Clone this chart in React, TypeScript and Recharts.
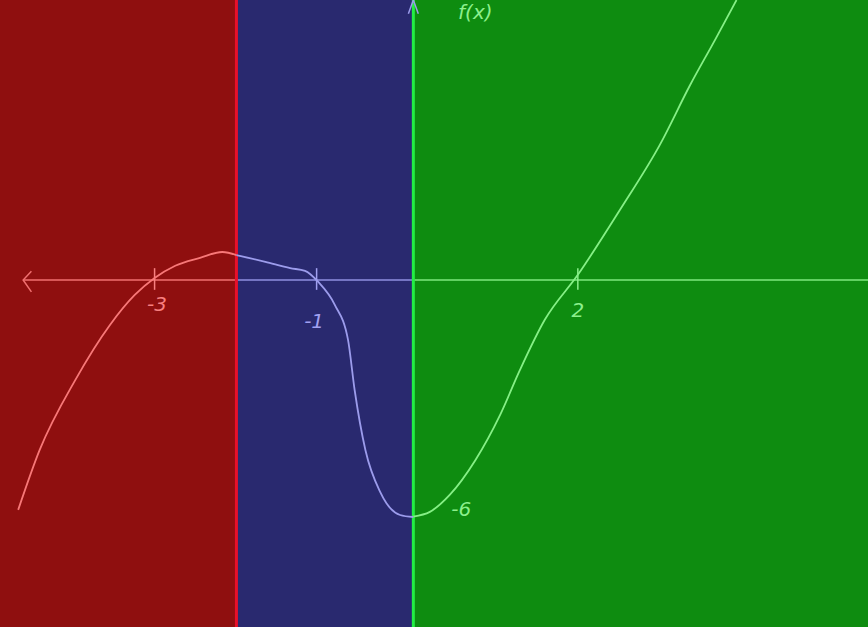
import React from 'react';
import {
  LineChart,
  Line,
  XAxis,
  YAxis,
  ReferenceArea,
  ReferenceLine,
  ReferenceDot,
} from 'recharts';

// sketch of f(x), math units
const X_DOMAIN: [number, number] = [-5, 5.5];
const Y_DOMAIN: [number, number] = [-8.8, 7.1];

const RED_X = [-4.78, -4.52, -4.09, -3.67, -3.37, -3.13, -2.88, -2.58, -2.31, -2.14];
const RED_Y = [-5.83, -4.31, -2.54, -1.14, -0.38, 0.05, 0.36, 0.56, 0.71, 0.63];

const BLUE_X = [-2.14, -1.79, -1.49, -1.31, -1.15, -0.95, -0.79, -0.71, -0.58, -0.4, -0.16, 0];
const BLUE_Y = [0.63, 0.46, 0.3, 0.23, -0.05, -0.63, -1.52, -2.79, -4.31, -5.38, -5.96, -6.01];

const GREEN_X = [0, 0.2, 0.44, 0.75, 1.05, 1.29, 1.59, 1.99, 2.5, 2.98, 3.35, 3.65, 3.91];
const GREEN_Y = [-6.0, -5.88, -5.45, -4.57, -3.42, -2.28, -1.01, 0.13, 1.78, 3.42, 4.95, 6.09, 7.1];

// region boundaries
const SPLIT_LEFT = -2.14;
const SPLIT_RIGHT = 0;
const AXIS_START = -4.72;

// arrow heads: left end of the x axis, top of the y axis
const ARROW_X = [-4.62, -4.72, -4.62];
const ARROW_Y = [0.22, 0, -0.3];
const UP_ARROW_X = [-0.06, 0, 0.06];
const UP_ARROW_Y = [6.75, 7.1, 6.75];

const TICKS = [
  { x: -3.13, color: '#f88080' },
  { x: -1.17, color: '#a0a0f0' },
  { x: 1.99, color: '#8cf08c' },
];

const LABELS = [
  { x: -3.1, y: -0.6, text: '-3', color: '#f88080' },
  { x: -1.2, y: -1.05, text: '-1', color: '#a0a0f0' },
  { x: 1.99, y: -0.75, text: '2', color: '#8cf08c' },
  { x: 0.58, y: -5.8, text: '-6', color: '#8cf08c' },
  { x: 0.75, y: 6.8, text: 'f(x)', color: '#8cf08c' },
];

const toPoints = (xs: number[], ys: number[]) => xs.map((x, i) => ({ x, y: ys[i] }));

const redData = toPoints(RED_X, RED_Y);
const blueData = toPoints(BLUE_X, BLUE_Y);
const greenData = toPoints(GREEN_X, GREEN_Y);
const arrowData = toPoints(ARROW_X, ARROW_Y);
const upArrowData = toPoints(UP_ARROW_X, UP_ARROW_Y);

const HAND = '"DejaVu Sans", sans-serif';

export default function App() {
  return (
    <div style={{ position: 'absolute', left: 0, top: 0, width: 868, height: 627 }}>
      <LineChart width={868} height={627} margin={{ top: 0, right: 0, bottom: 0, left: 0 }}>
        <XAxis type="number" dataKey="x" domain={X_DOMAIN} hide allowDataOverflow />
        <YAxis type="number" dataKey="y" domain={Y_DOMAIN} hide allowDataOverflow />

        {/* coloured regions */}
        <ReferenceArea x1={X_DOMAIN[0]} x2={SPLIT_LEFT} fill="#8f0f0f" fillOpacity={1} stroke="none" />
        <ReferenceArea x1={SPLIT_LEFT} x2={SPLIT_RIGHT} fill="#29296f" fillOpacity={1} stroke="none" />
        <ReferenceArea x1={SPLIT_RIGHT} x2={X_DOMAIN[1]} fill="#0e8c10" fillOpacity={1} stroke="none" />

        {/* x axis, coloured per region */}
        <ReferenceLine segment={[{ x: AXIS_START, y: 0 }, { x: SPLIT_LEFT, y: 0 }]} stroke="#f07070" strokeWidth={1.5} />
        <ReferenceLine segment={[{ x: SPLIT_LEFT, y: 0 }, { x: SPLIT_RIGHT, y: 0 }]} stroke="#8f8fe0" strokeWidth={1.5} />
        <ReferenceLine segment={[{ x: SPLIT_RIGHT, y: 0 }, { x: X_DOMAIN[1], y: 0 }]} stroke="#7ee87e" strokeWidth={1.5} />

        {/* tick marks */}
        {TICKS.map((t) => (
          <ReferenceLine
            key={t.x}
            segment={[{ x: t.x, y: 0.3 }, { x: t.x, y: -0.25 }]}
            stroke={t.color}
            strokeWidth={1.5}
          />
        ))}

        {/* region borders */}
        <ReferenceLine x={SPLIT_LEFT} stroke="#e8102a" strokeWidth={3} />
        <ReferenceLine x={SPLIT_RIGHT} stroke="#22ee44" strokeWidth={3} />

        <Line data={arrowData} dataKey="y" type="linear" stroke="#f07070" strokeWidth={1.5} dot={false} activeDot={false} isAnimationActive={false} />
        <Line data={upArrowData} dataKey="y" type="linear" stroke="#9c9cec" strokeWidth={1.5} dot={false} activeDot={false} isAnimationActive={false} />
        <Line data={redData} dataKey="y" type="monotone" stroke="#f87878" strokeWidth={1.8} dot={false} activeDot={false} isAnimationActive={false} />
        <Line data={blueData} dataKey="y" type="monotone" stroke="#9c9cec" strokeWidth={1.8} dot={false} activeDot={false} isAnimationActive={false} />
        <Line data={greenData} dataKey="y" type="monotone" stroke="#86f086" strokeWidth={1.8} dot={false} activeDot={false} isAnimationActive={false} />

        {LABELS.map((l) => (
          <ReferenceDot
            key={l.text}
            x={l.x}
            y={l.y}
            r={0}
            fill="none"
            stroke="none"
            label={{ value: l.text, position: 'center', fill: l.color, fontSize: 20, fontFamily: HAND, fontStyle: 'italic' }}
          />
        ))}
      </LineChart>
    </div>
  );
}
